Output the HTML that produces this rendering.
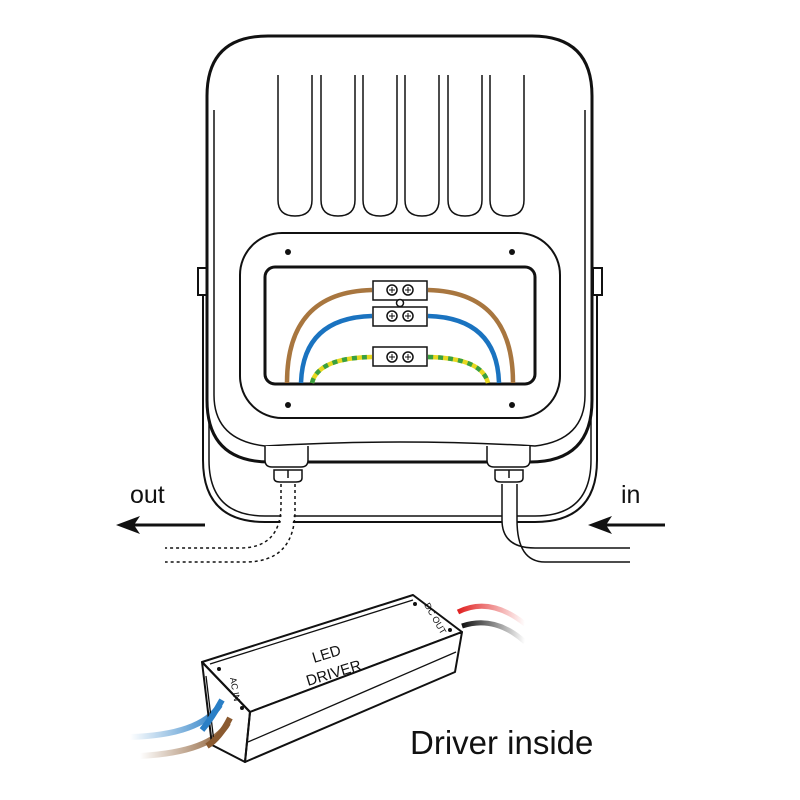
<!DOCTYPE html>
<html><head><style>body{margin:0;background:#fff}svg{display:block}</style></head><body>
<svg width="800" height="800" viewBox="0 0 800 800" xmlns="http://www.w3.org/2000/svg" font-family="Liberation Sans, sans-serif">
<defs>
<linearGradient id="gb" x1="1" x2="0"><stop offset="0" stop-color="#2a7fc6"/><stop offset="1" stop-color="#2a7fc6" stop-opacity="0"/></linearGradient>
<linearGradient id="gbr" x1="1" x2="0"><stop offset="0" stop-color="#8a5a30"/><stop offset="1" stop-color="#8a5a30" stop-opacity="0"/></linearGradient>
<linearGradient id="gr" x1="0" x2="1"><stop offset="0" stop-color="#e02020"/><stop offset="1" stop-color="#e02020" stop-opacity="0"/></linearGradient>
<linearGradient id="gk" x1="0" x2="1"><stop offset="0" stop-color="#111"/><stop offset="1" stop-color="#111" stop-opacity="0"/></linearGradient>
</defs>
<g fill="none" stroke="#111" stroke-width="2">
<!-- stand -->
<path d="M203 280 V460 Q203 522 265 522 H535 Q597 522 597 460 V280"/>
<path d="M209 280 V460 Q209 516 265 516 H535 Q591 516 591 460 V280" stroke-width="1.5"/>
<rect x="198" y="268" width="9" height="27" fill="#fff"/>
<rect x="593" y="268" width="9" height="27" fill="#fff"/>
<!-- body -->
<path d="M268 36 H532 Q592 36 592 96 V400 Q592 462 530 462 H270 Q207 462 207 400 V96 Q207 36 268 36Z" fill="#fff" stroke-width="3"/>
<path d="M214 110 V395 Q214 440 265 446 Q400 438 535 446 Q585 440 585 395 V110" stroke-width="1.5"/>
<!-- fins -->
<g stroke-width="1.5">
<path d="M278 75 V200 Q278 216 295 216 Q312 216 312 200 V75"/>
<path d="M321 75 V200 Q321 216 338 216 Q355 216 355 200 V75"/>
<path d="M363 75 V200 Q363 216 380 216 Q397 216 397 200 V75"/>
<path d="M405 75 V200 Q405 216 422 216 Q439 216 439 200 V75"/>
<path d="M448 75 V200 Q448 216 465 216 Q482 216 482 200 V75"/>
<path d="M490 75 V200 Q490 216 507 216 Q524 216 524 200 V75"/>
</g>
<!-- window -->
<rect x="240" y="233" width="320" height="185" rx="42" stroke-width="2"/>
<rect x="265" y="267" width="270" height="117" rx="10" stroke-width="3"/>
<!-- wires -->
<path d="M287 383 Q287 292 372 290" stroke="#a8763f" stroke-width="4.5"/>
<path d="M428 290 Q513 292 513 383" stroke="#a8763f" stroke-width="4.5"/>
<path d="M301 383 Q303 318 372 316" stroke="#1a73c0" stroke-width="4.5"/>
<path d="M428 316 Q497 318 499 383" stroke="#1a73c0" stroke-width="4.5"/>
<path d="M312 383 Q318 358 372 357" stroke="#e8d820" stroke-width="4.5"/>
<path d="M428 357 Q482 358 488 383" stroke="#e8d820" stroke-width="4.5"/>
<path d="M312 383 Q318 358 372 357" stroke="#3aa040" stroke-width="4.5" stroke-dasharray="5 5"/>
<path d="M428 357 Q482 358 488 383" stroke="#3aa040" stroke-width="4.5" stroke-dasharray="5 5"/>
<!-- connectors -->
<g fill="#fff" stroke-width="1.5">
<rect x="373" y="281" width="54" height="19"/>
<rect x="373" y="307" width="54" height="19"/>
<rect x="373" y="347" width="54" height="19"/>
<circle cx="400" cy="303" r="3.5"/>
<circle cx="392" cy="290" r="5"/><circle cx="408" cy="290" r="5"/>
<circle cx="392" cy="316" r="5"/><circle cx="408" cy="316" r="5"/>
<circle cx="392" cy="357" r="5"/><circle cx="408" cy="357" r="5"/>
</g>
<g stroke-width="1">
<path d="M389 290h6M392 287v6M405 290h6M408 287v6M389 316h6M392 313v6M405 316h6M408 313v6M389 357h6M392 354v6M405 357h6M408 354v6"/>
</g>
<!-- glands -->
<path d="M265 446 V460 Q265 467 272 467 H301 Q308 467 308 460 V446" fill="#fff" stroke-width="1.5"/>
<path d="M487 446 V460 Q487 467 494 467 H523 Q530 467 530 460 V446" fill="#fff" stroke-width="1.5"/>
<path d="M274 470 H302 V478 Q302 482 296 482 H280 Q274 482 274 478Z M288 470 V478" stroke-width="1.5"/>
<path d="M495 470 H523 V478 Q523 482 517 482 H501 Q495 482 495 478Z M509 470 V478" stroke-width="1.5"/>
<!-- cables -->
<path d="M288 490 V508 Q288 555 242 555 H165" stroke="#fff" stroke-width="12"/>
<path d="M281 484 V505 Q281 548 240 548 H165 M295 484 V510 Q295 562 245 562 H165" stroke-width="1.5" stroke-dasharray="3 3"/>
<path d="M509.5 484 V520 Q509.5 555 540 555 H630" stroke="#fff" stroke-width="14"/>
<path d="M502 484 V520 Q502 548 535 548 H630 M517 484 V520 Q517 562 545 562 H630" stroke-width="1.5"/>
<!-- arrows -->
<path d="M205 525 H130" stroke-width="3"/>
<path d="M665 525 H600" stroke-width="3"/>
</g>
<path d="M116 525 L140 516 L134 525 L140 534Z" fill="#111"/>
<path d="M588 525 L612 516 L606 525 L612 534Z" fill="#111"/>
<circle cx="288" cy="252" r="3" fill="#111"/><circle cx="512" cy="252" r="3" fill="#111"/>
<circle cx="288" cy="405" r="3" fill="#111"/><circle cx="512" cy="405" r="3" fill="#111"/>
<text x="130" y="503" font-size="25" fill="#111">out</text>
<text x="621" y="503" font-size="25" fill="#111">in</text>
<!-- driver wires -->
<path d="M458 612 Q490 596 525 624" stroke="url(#gr)" stroke-width="5" fill="none"/>
<path d="M462 626 Q495 615 525 642" stroke="url(#gk)" stroke-width="5" fill="none"/>
<path d="M220 705 Q200 735 130 737" stroke="url(#gb)" stroke-width="6" fill="none"/>
<path d="M228 723 Q212 752 140 756" stroke="url(#gbr)" stroke-width="6" fill="none"/>
<!-- driver box -->
<g stroke="#111" stroke-width="2" fill="#fff" stroke-linejoin="round">
<path d="M202 662 L413 595 L462 632 L250 712Z"/>
<path d="M250 712 L462 632 L455 672 L245 762Z"/>
<path d="M202 662 L250 712 L245 762 L212 745Z" fill="none"/>
</g>
<g stroke="#111" stroke-width="1.3" fill="none">
<path d="M210 664 L413 600"/>
<path d="M248 742 L456 652"/>
<path d="M206 676 L214 742"/>
</g>
<path d="M222 700 Q212 718 202 730" stroke="#2a7fc6" stroke-width="6" fill="none"/>
<path d="M230 718 Q220 738 207 746" stroke="#8a5a30" stroke-width="6" fill="none"/>
<circle cx="219" cy="669" r="2" fill="#111"/><circle cx="242" cy="708" r="2" fill="#111"/>
<circle cx="415" cy="604" r="2" fill="#111"/><circle cx="450" cy="630" r="2" fill="#111"/>
<g fill="#111" font-size="15">
<text transform="translate(314,663) rotate(-17)">LED</text>
<text transform="translate(308,686) rotate(-17)">DRIVER</text>
</g>
<g fill="#111" font-size="9">
<text transform="translate(230,678) rotate(80)">AC  IN</text>
<text transform="translate(424,605) rotate(60)">DC  OUT</text>
</g>
<text x="410" y="754" font-size="33" fill="#111">Driver inside</text>
</svg>
</body></html>
